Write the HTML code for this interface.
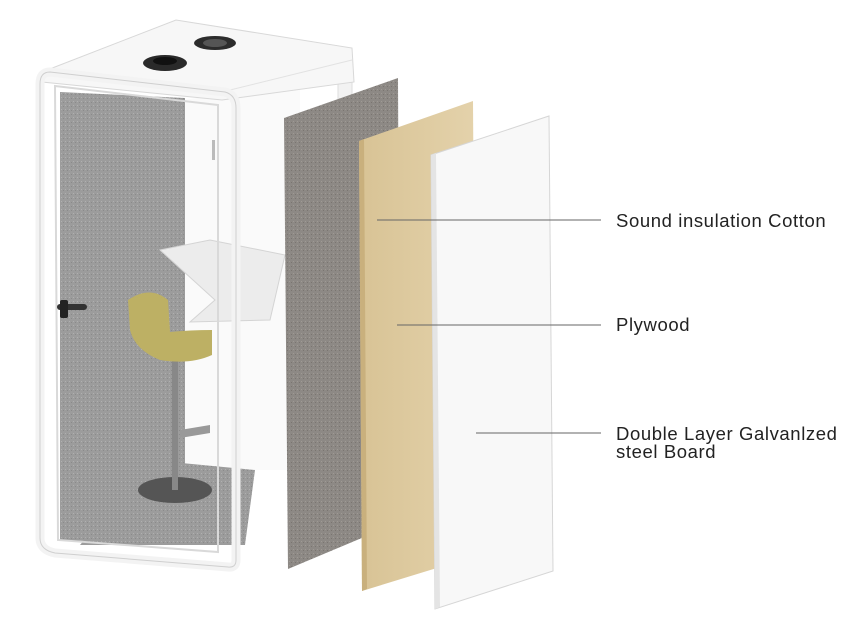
<!DOCTYPE html>
<html><head><meta charset="utf-8"><style>
html,body{margin:0;padding:0;background:#fff;}
svg{display:block}
text{font-family:"Liberation Sans",sans-serif;font-size:18.5px;letter-spacing:0.6px;fill:#222;}
</style></head><body>
<svg width="864" height="627" viewBox="0 0 864 627" xmlns="http://www.w3.org/2000/svg">
<defs>
<pattern id="felt" width="4" height="4" patternUnits="userSpaceOnUse">
<rect width="4" height="4" fill="#9c9c9c"/><rect x="1" y="1" width="1" height="1" fill="#b0b0b0"/><rect x="3" y="2" width="1" height="1" fill="#8a8a8a"/>
</pattern>
<pattern id="felt2" width="4" height="4" patternUnits="userSpaceOnUse">
<rect width="4" height="4" fill="#8d8985"/><rect x="1" y="1" width="1" height="1" fill="#9f9a94"/><rect x="3" y="2" width="1" height="1" fill="#7a7570"/>
</pattern>
<linearGradient id="wood" x1="0" x2="1" y1="0" y2="0">
<stop offset="0" stop-color="#d8c395"/><stop offset="1" stop-color="#e4d2ab"/>
</linearGradient>
</defs>
<rect x="338" y="50" width="14" height="210" fill="#f2f2f2" stroke="#ddd"/>
<polygon points="185,100 300,80 300,470 185,470" fill="#fafafa"/>
<polygon points="60,92 185,98 185,545 60,540" fill="url(#felt)"/>
<polygon points="150,460 255,470 245,545 80,545" fill="url(#felt)"/>
<polygon points="160,250 210,240 285,255 270,320 190,322 215,300" fill="#ececec" stroke="#d4d4d4"/>
<ellipse cx="175" cy="490" rx="37" ry="13" fill="#555"/>
<rect x="172" y="360" width="6" height="130" fill="#888"/>
<path d="M180 430 L210 425 L210 433 L180 438Z" fill="#999"/>
<path d="M128 300 Q150 285 168 300 L170 332 Q190 330 212 330 L212 355 Q190 365 160 360 Q135 350 130 330Z" fill="#bdb064"/>
<polygon points="42,72 176,20 352,48 354,82 222,100 42,82" fill="#f7f7f7" stroke="#d8d8d8"/>
<path d="M42,72 L222,92 L352,60" fill="none" stroke="#e2e2e2"/>
<ellipse cx="165" cy="63" rx="22" ry="8" fill="#2a2a2a"/><ellipse cx="165" cy="61" rx="12" ry="4" fill="#111"/>
<ellipse cx="215" cy="43" rx="21" ry="7" fill="#2c2c2c"/><ellipse cx="215" cy="43" rx="12" ry="4" fill="#555"/>
<path d="M50,72 L225,92 Q236,95 236,108 L236,560 Q236,568 228,567 L55,553 Q40,550 40,538 L40,84 Q40,72 50,72Z" fill="none" stroke="#f3f3f3" stroke-width="9"/>
<path d="M50,72 L225,92 Q236,95 236,108 L236,560 Q236,568 228,567 L55,553 Q40,550 40,538 L40,84 Q40,72 50,72Z" fill="none" stroke="#cfcfcf" stroke-width="1"/>
<path d="M55,86 L218,105 L218,552 L58,540Z" fill="none" stroke="#d9d9d9" stroke-width="2"/>
<rect x="212" y="140" width="3" height="20" fill="#bbb"/>
<rect x="57" y="304" width="30" height="6" rx="3" fill="#333"/>
<rect x="60" y="300" width="8" height="18" rx="2" fill="#222"/>
<polygon points="284,118 398,78 400,522 288,569" fill="url(#felt2)"/>
<polygon points="359,141 473,101 476,556 362,591" fill="url(#wood)"/>
<polygon points="359,141 364,139 367,589 362,591" fill="#c9b07d"/>
<polygon points="431,155 549,116 553,571 435,609" fill="#f8f8f8" stroke="#d6d6d6"/>
<polygon points="431,155 436,153 440,607 435,609" fill="#e4e4e4"/>
<line x1="377" y1="220" x2="601" y2="220" stroke="#666" stroke-width="1"/>
<line x1="397" y1="325" x2="601" y2="325" stroke="#666" stroke-width="1"/>
<line x1="476" y1="433" x2="601" y2="433" stroke="#666" stroke-width="1"/>
<text x="616" y="227">Sound insulation Cotton</text>
<text x="616" y="331">Plywood</text>
<text x="616" y="440">Double Layer Galvanlzed</text>
<text x="616" y="458">steel Board</text>
</svg>
</body></html>
